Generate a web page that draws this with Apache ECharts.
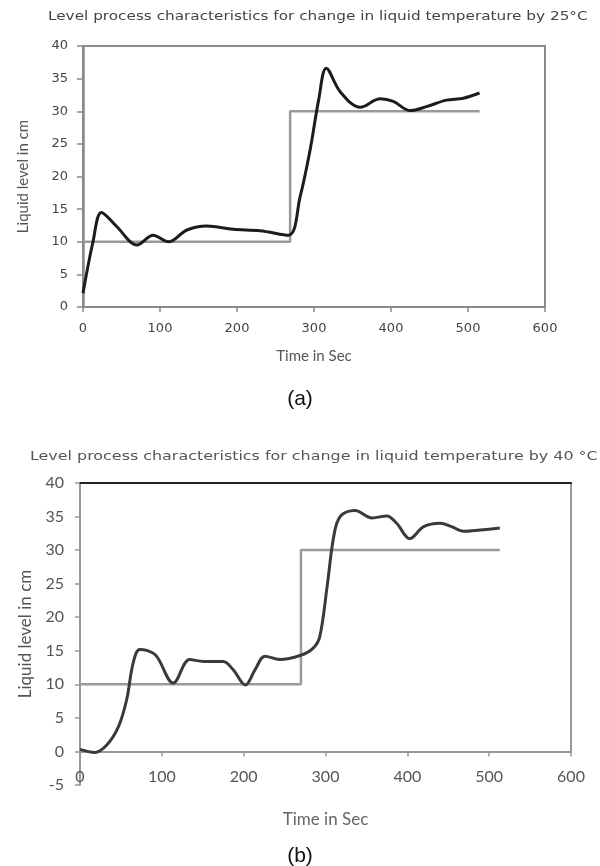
<!DOCTYPE html>
<html><head><meta charset="utf-8">
<script src="https://cdn.jsdelivr.net/npm/echarts@6/dist/echarts.min.js"></script>
<style>html,body{margin:0;padding:0;background:#fff}#c{width:600px;height:866px}</style>
</head><body><div id="c"></div>
<script>
const titleA = "Level process characteristics for change in liquid temperature by 25°C";
const titleB = "Level process characteristics for change in liquid temperature by 40 °C";
const yName = "Liquid level in cm";
const xName = "Time in Sec";
const xTicks = [0, 100, 200, 300, 400, 500, 600];

const timeA = [0, 13, 24, 44, 70, 91, 111, 135, 161, 195, 230, 267, 282, 295, 306, 316, 334, 360, 386, 403, 425, 446, 472, 494, 515];
const levelA = [2.1, 10.0, 14.5, 12.3, 9.5, 11.0, 10.0, 11.8, 12.4, 11.9, 11.7, 11.0, 16.9, 24.1, 31.7, 36.6, 33.0, 30.6, 31.9, 31.5, 30.1, 30.7, 31.7, 32.0, 32.8];
const spTimeA = [0, 269, 269, 515];
const spLevelA = [10, 10, 30, 30];

const timeB = [0, 18, 33, 47, 57, 65, 73, 92, 114, 134, 151, 175, 187, 202, 214, 226, 244, 269, 285, 293, 302, 310, 318, 336, 357, 375, 387, 403, 420, 440, 454, 469, 489, 513];
const levelB = [0.3, -0.15, 1.0, 3.7, 7.7, 13.2, 15.2, 14.4, 10.2, 13.7, 13.4, 13.4, 12.2, 9.9, 12.2, 14.2, 13.7, 14.3, 15.4, 17.1, 24.6, 32.0, 35.0, 35.9, 34.8, 35.1, 34.0, 31.7, 33.5, 34.0, 33.5, 32.8, 33.0, 33.3];
const spTimeB = [0, 270, 270, 513];
const spLevelB = [10, 10, 30, 30];

const zip = (a, b) => a.map((v, i) => [v, b[i]]);
const chart = echarts.init(document.getElementById('c'), null, {renderer: 'canvas'});
const fA = 'DejaVu Sans';
const fB = 'Lato';
const axGray = '#8a8a8a';

chart.setOption({
  animation: false,
  backgroundColor: '#fff',
  graphic: [
    {type: 'text', x: 48, y: 10, scaleX: 1.174, style: {text: titleA, font: '13px "DejaVu Sans"', fill: '#444'}},
    {type: 'text', x: 30, y: 450, scaleX: 1.224, style: {text: titleB, font: '13px "DejaVu Sans"', fill: '#555'}}
  ],
  title: [
    {text: '(a)', left: 'center', top: 384, textStyle: {fontFamily: 'Liberation Sans', fontSize: 21, fontWeight: 'normal', color: '#111'}},
    {text: '(b)', left: 'center', top: 841, textStyle: {fontFamily: 'Liberation Sans', fontSize: 21, fontWeight: 'normal', color: '#111'}}
  ],
  grid: [
    {left: 83, right: 55, top: 46, bottom: 559, show: true, borderColor: axGray, borderWidth: 2},
    {left: 80, right: 29, top: 483, bottom: 81},
    {left: 80, right: 29, top: 483, bottom: 114, show: true, borderColor: '#999', borderWidth: 2}
  ],
  xAxis: [
    {gridIndex: 0, type: 'value', min: 0, max: 600, interval: 100,
     name: xName, nameLocation: 'middle', nameGap: 42,
     nameTextStyle: {fontFamily: fB, fontSize: 15, color: '#555'},
     axisLine: {lineStyle: {color: axGray, width: 2}},
     axisTick: {length: 5, lineStyle: {color: axGray, width: 1.5}},
     axisLabel: {fontFamily: fA, fontSize: 13, color: '#444', margin: 15},
     splitLine: {show: false}},
    {gridIndex: 1, type: 'value', min: 0, max: 600, interval: 100,
     name: xName, nameLocation: 'middle', nameGap: 26,
     nameTextStyle: {fontFamily: fB, fontSize: 17, color: '#666'},
     axisLine: {onZero: true, lineStyle: {color: '#999', width: 2}},
     axisTick: {length: 5, lineStyle: {color: '#999', width: 1.5}},
     axisLabel: {fontFamily: fB, fontSize: 16, color: '#555', margin: -16},
     splitLine: {show: false}},
    {gridIndex: 1, type: 'value', position: 'top', min: 0, max: 600,
     axisLine: {onZero: false, lineStyle: {color: '#222', width: 2}},
     axisTick: {show: false}, axisLabel: {show: false}, splitLine: {show: false}},
    {gridIndex: 2, type: 'value', min: 0, max: 600, show: false}
  ],
  yAxis: [
    {gridIndex: 0, type: 'value', min: 0, max: 40, interval: 5,
     name: yName, nameLocation: 'middle', nameGap: 52, nameRotate: 90,
     nameTextStyle: {fontFamily: fB, fontSize: 15, color: '#555'},
     axisLine: {show: true, lineStyle: {color: axGray, width: 2.5}},
     axisTick: {show: true, length: 6, lineStyle: {color: axGray, width: 1.5}},
     axisLabel: {fontFamily: fA, fontSize: 13, color: '#444', margin: 15},
     splitLine: {show: false}},
    {gridIndex: 1, type: 'value', min: -5, max: 40, interval: 5,
     name: yName, nameLocation: 'middle', nameGap: 46, nameRotate: 90,
     nameTextStyle: {fontFamily: fB, fontSize: 17, color: '#555'},
     axisLine: {show: true, onZero: false, lineStyle: {color: '#999', width: 2}},
     axisTick: {show: true, length: 5, lineStyle: {color: '#999', width: 1.5}},
     axisLabel: {fontFamily: fB, fontSize: 16, color: '#555', margin: 16},
     splitLine: {show: false}},
    {gridIndex: 2, type: 'value', min: 0, max: 40, show: false}
  ],
  series: [
    {type: 'line', xAxisIndex: 0, yAxisIndex: 0, data: zip(spTimeA, spLevelA), showSymbol: false,
     lineStyle: {color: '#999', width: 2.5}, z: 2},
    {type: 'line', xAxisIndex: 0, yAxisIndex: 0, data: zip(timeA, levelA), showSymbol: false, smooth: 0.35,
     lineStyle: {color: '#1c1c1c', width: 3}, z: 3},
    {type: 'line', xAxisIndex: 1, yAxisIndex: 1, data: zip(spTimeB, spLevelB), showSymbol: false,
     lineStyle: {color: '#9a9a9a', width: 2.5}, z: 2},
    {type: 'line', xAxisIndex: 1, yAxisIndex: 1, data: zip(timeB, levelB), showSymbol: false, smooth: 0.35,
     lineStyle: {color: '#3a3a3a', width: 3}, z: 3}
  ]
});
</script></body></html>
